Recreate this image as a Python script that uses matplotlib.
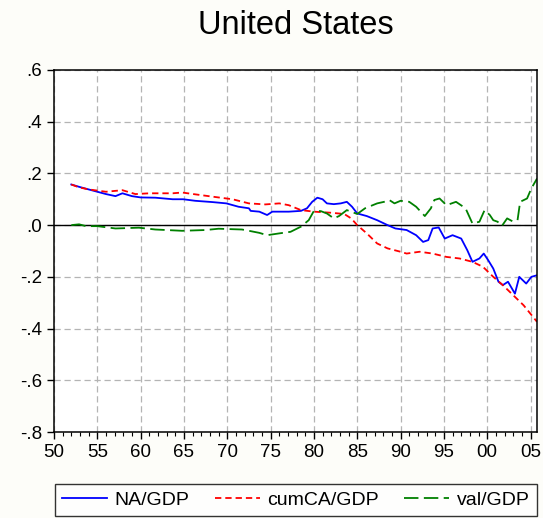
import matplotlib
matplotlib.use("Agg")
import matplotlib.pyplot as plt
from matplotlib.ticker import FixedLocator, FuncFormatter

plt.rcParams['font.family'] = ['Liberation Sans', 'DejaVu Sans']

# values (year, ratio to GDP)
na_years = [1952.0, 1952.9, 1954.0, 1955.0, 1956.0, 1957.1, 1957.9, 1959.0, 1960.0, 1961.7,
            1963.7, 1964.9, 1966.3, 1968.3, 1969.9, 1971.3, 1972.5, 1972.7, 1973.7, 1974.6,
            1975.2, 1976.2, 1977.1, 1978.5, 1979.2, 1979.8, 1980.4, 1981.0, 1981.5, 1982.3,
            1983.1, 1983.8, 1984.4, 1985.0, 1986.1, 1987.3, 1988.5, 1989.4, 1990.7, 1991.8,
            1992.6, 1993.2, 1993.7, 1994.4, 1995.1, 1996.0, 1997.0, 1997.7, 1998.3, 1999.1,
            1999.6, 2000.1, 2000.7, 2001.3, 2001.8, 2002.4, 2003.2, 2003.7, 2004.5, 2005.1,
            2005.75]
na_gdp = [0.157, 0.148, 0.138, 0.129, 0.120, 0.112, 0.123, 0.112, 0.107, 0.106,
          0.100, 0.100, 0.094, 0.089, 0.084, 0.071, 0.065, 0.055, 0.052, 0.039,
          0.052, 0.052, 0.052, 0.055, 0.065, 0.090, 0.106, 0.100, 0.084, 0.081,
          0.084, 0.090, 0.071, 0.045, 0.035, 0.019, 0.000, -0.013, -0.019, -0.039,
          -0.065, -0.058, -0.013, -0.009, -0.052, -0.039, -0.052, -0.097, -0.142, -0.129,
          -0.110, -0.135, -0.168, -0.219, -0.232, -0.219, -0.265, -0.200, -0.226, -0.200,
          -0.194]

ca_years = [1952.0, 1952.9, 1954.0, 1956.0, 1957.9, 1959.4, 1961.0, 1963.7, 1964.8, 1966.3,
            1968.3, 1970.6, 1972.5, 1974.4, 1976.0, 1977.1, 1978.5, 1980.0, 1981.9, 1983.5,
            1984.3, 1985.0, 1986.1, 1987.3, 1988.5, 1990.0, 1990.7, 1992.2, 1993.7, 1995.3,
            1996.8, 1998.3, 1999.5, 2000.7, 2001.8, 2003.0, 2004.2, 2005.75]
cumca_gdp = [0.157, 0.146, 0.138, 0.129, 0.135, 0.120, 0.123, 0.123, 0.126, 0.119,
             0.110, 0.100, 0.084, 0.080, 0.084, 0.077, 0.058, 0.052, 0.048, 0.043,
             0.026, 0.000, -0.032, -0.071, -0.090, -0.103, -0.110, -0.103, -0.110, -0.123,
             -0.129, -0.142, -0.161, -0.200, -0.232, -0.271, -0.310, -0.374]

val_years = [1952.0, 1952.9, 1953.7, 1955.0, 1957.1, 1959.8, 1961.7, 1964.8, 1967.5, 1969.0,
             1971.7, 1972.5, 1973.7, 1974.6, 1976.0, 1977.3, 1978.5, 1979.4, 1980.0, 1980.8,
             1981.5, 1982.3, 1982.9, 1983.8, 1985.0, 1985.9, 1987.3, 1988.1, 1988.7, 1989.3,
             1990.0, 1991.0, 1991.8, 1992.8, 1993.5, 1993.9, 1994.5, 1995.3, 1996.4, 1997.5,
             1998.3, 1999.1, 1999.7, 2000.3, 2000.7, 2001.2, 2001.7, 2002.3, 2002.9, 2003.5,
             2003.8, 2004.6, 2005.1, 2005.75]
val_gdp = [0.000, 0.003, -0.004, -0.004, -0.013, -0.010, -0.017, -0.022, -0.019, -0.014,
           -0.017, -0.022, -0.030, -0.039, -0.032, -0.026, -0.006, 0.019, 0.055, 0.054,
           0.045, 0.026, 0.035, 0.058, 0.043, 0.065, 0.084, 0.090, 0.097, 0.084,
           0.094, 0.090, 0.071, 0.035, 0.065, 0.097, 0.103, 0.077, 0.090, 0.065,
           0.006, 0.013, 0.058, 0.039, 0.019, 0.013, -0.003, 0.026, 0.015, 0.019,
           0.090, 0.103, 0.142, 0.180]

x_ticks = list(range(1950, 2006, 5))
y_ticks = [-0.8, -0.6, -0.4, -0.2, 0.0, 0.2, 0.4, 0.6]


def short_label(v, pos):
    s = '%.1f' % v
    if s in ('0.0', '-0.0'):
        return '.0'
    return s.replace('0.', '.')


fig = plt.figure(figsize=(5.43, 5.18), dpi=100, facecolor='#fdfdf9')
ax = fig.add_axes([0.0994, 0.166, 0.8896, 0.699])
ax.set_facecolor('white')

ax.plot(na_years, na_gdp, color='#0000ff', lw=1.3, label='NA/GDP')
ax.plot(ca_years, cumca_gdp, color='#ff0000', lw=1.3, dashes=(3.5, 2.2), label='cumCA/GDP')
ax.plot(val_years, val_gdp, color='#008000', lw=1.3, dashes=(8, 3), label='val/GDP')
ax.axhline(0, color='black', lw=1.0, zorder=1)

ax.set_xlim(1950, 2005.75)
ax.set_ylim(-0.8, 0.6)
ax.xaxis.set_major_locator(FixedLocator(x_ticks))
ax.xaxis.set_minor_locator(FixedLocator(range(1950, 2006)))
ax.set_xticklabels(['%02d' % (y % 100) for y in x_ticks])
ax.yaxis.set_major_locator(FixedLocator(y_ticks))
ax.yaxis.set_major_formatter(FuncFormatter(short_label))
ax.tick_params(axis='both', which='major', labelsize=13.5, direction='out', length=5, width=1)
ax.tick_params(axis='x', which='minor', direction='out', length=3, width=0.8)
ax.grid(True, which='major', color='#b4b4b4', ls=(0, (5, 3)), lw=0.9)
ax.set_axisbelow(True)
for sp in ax.spines.values():
    sp.set_linewidth(1.1)

ax.set_title('United States', fontsize=23.5, pad=26)

# legend box under the axes, same width as the plot
leg = ax.legend(loc='upper left', bbox_to_anchor=(0.002, -0.2436, 0.998, 0.1), mode='expand',
                ncol=3, frameon=True, fancybox=False, edgecolor='black', fontsize=14,
                handlelength=2.3, borderpad=0.38, handletextpad=0.4, borderaxespad=0)
leg.get_frame().set_linewidth(1.0)

fig.savefig('out.png', dpi=100, facecolor=fig.get_facecolor())
